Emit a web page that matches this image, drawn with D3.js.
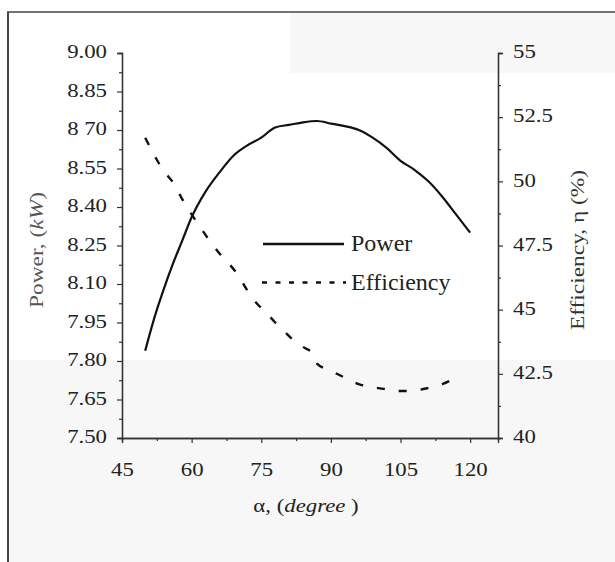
<!DOCTYPE html>
<html>
<head>
<meta charset="utf-8">
<script src="https://d3js.org/d3.v7.min.js"></script>
<style>
body { margin: 0; background: #fff; }
svg { display: block; }
text { font-family: "Liberation Serif", "Times New Roman", serif; fill: #222; }
</style>
</head>
<body>
<svg width="615" height="562"></svg>
<script>
// data
var alpha = [50, 52, 54, 56, 58, 60, 63, 66, 69, 72, 75, 78, 81, 84, 87, 90, 93, 96, 99, 102, 105, 108, 111, 114, 117, 120];
var power = [7.84, 7.97, 8.08, 8.18, 8.27, 8.36, 8.46, 8.535, 8.60, 8.64, 8.67, 8.71, 8.72, 8.73, 8.735, 8.725, 8.715, 8.70, 8.67, 8.63, 8.58, 8.545, 8.50, 8.44, 8.37, 8.30];

var alphaEff = [50, 52, 54, 56, 58, 60, 62, 64, 66, 68, 70, 72, 74, 76, 78, 80, 82, 84, 86, 87, 90, 93, 96, 99, 102, 105, 108, 111, 114, 117];
var efficiency = [51.7, 51.0, 50.4, 49.95, 49.3, 48.71, 48.18, 47.65, 47.19, 46.8, 46.35, 45.75, 45.25, 44.9, 44.5, 44.15, 43.8, 43.55, 43.3, 42.9, 42.62, 42.35, 42.1, 41.98, 41.9, 41.83, 41.85, 41.95, 42.1, 42.35];

var xTicks = [45, 60, 75, 90, 105, 120];
var powerTicks = [7.50, 7.65, 7.80, 7.95, 8.10, 8.25, 8.40, 8.55, 8.70, 8.85, 9.00];
var effTicks = [40, 42.5, 45, 47.5, 50, 52.5, 55];

var svg = d3.select("svg");

// scan background shading and frame
svg.append("rect").attr("x", 8).attr("y", 360).attr("width", 607).attr("height", 202).style("fill", "#f7f7f7");
svg.append("rect").attr("x", 290).attr("y", 13).attr("width", 325).attr("height", 60).style("fill", "#f7f7f7");
svg.append("line").attr("x1", 7).attr("x2", 615).attr("y1", 12).attr("y2", 12).style("stroke", "#444").style("stroke-width", 1.5);
svg.append("line").attr("x1", 8).attr("x2", 8).attr("y1", 12).attr("y2", 562).style("stroke", "#444").style("stroke-width", 2);

var x = d3.scaleLinear().domain([45, 126]).range([122, 498]);
var yP = d3.scaleLinear().domain([7.5, 9.0]).range([438, 53]);
var yE = d3.scaleLinear().domain([40, 55]).range([438, 53]);

var stretch = 1.2;

function styleAxis(g) {
    g.select(".domain").style("stroke", "#333").style("stroke-width", 1.3);
    g.selectAll(".tick line").style("stroke", "#333").style("stroke-width", 1.2);
    g.selectAll("text").style("font-size", "19px").style("fill", "#222")
        .attr("font-family", null);
}

// minor ticks first
svg.append("g").attr("transform", "translate(122,0)")
    .call(d3.axisLeft(yP).tickValues(d3.range(7.575, 9.0, 0.15)).tickSize(3).tickFormat(""))
    .call(styleAxis);
svg.append("g").attr("transform", "translate(498,0)")
    .call(d3.axisRight(yE).tickValues(d3.range(41.25, 55, 2.5)).tickSize(3).tickFormat(""))
    .call(styleAxis);
svg.append("g").attr("transform", "translate(0,438)")
    .call(d3.axisBottom(x).tickValues(d3.range(52.5, 126, 15)).tickSize(3).tickFormat(""))
    .call(styleAxis);

var gl = svg.append("g").attr("transform", "translate(122,0)")
    .call(d3.axisLeft(yP).tickValues(powerTicks).tickSize(5).tickFormat(function(d) {
        var s = d3.format(".2f")(d);
        return s == "8.70" ? "8 70" : s;
    }))
    .call(styleAxis);
gl.selectAll("text").attr("x", -12.5).attr("dy", "0.25em").attr("transform", "scale(" + stretch + ",1)");

var gr = svg.append("g").attr("transform", "translate(498,0)")
    .call(d3.axisRight(yE).tickValues(effTicks).tickSize(5).tickFormat(function(d) { return d; }))
    .call(styleAxis);
gr.selectAll("text").attr("x", 12.5).attr("dy", "0.25em").attr("transform", "scale(" + stretch + ",1)");

var gb = svg.append("g").attr("transform", "translate(0,438)")
    .call(d3.axisBottom(x).tickValues(xTicks).tickSize(5).tickFormat(function(d) { return d; }))
    .call(styleAxis);
gb.selectAll("text").attr("x", 0).attr("y", 38).attr("dy", 0).attr("transform", "scale(" + stretch + ",1)");

// lines
var powerLine = d3.line()
    .x(function(d, i) { return x(alpha[i]); })
    .y(function(d) { return yP(d); })
    .curve(d3.curveMonotoneX);

var effLine = d3.line()
    .x(function(d, i) { return x(alphaEff[i]); })
    .y(function(d) { return yE(d); })
    .curve(d3.curveMonotoneX);

svg.append("path").datum(power).attr("d", powerLine)
    .style("fill", "none").style("stroke", "#111").style("stroke-width", 2.2);

svg.append("path").datum(efficiency).attr("d", effLine)
    .style("fill", "none").style("stroke", "#111").style("stroke-width", 2.4)
    .style("stroke-dasharray", "8,14");

// legend
svg.append("line").attr("x1", 263).attr("x2", 344).attr("y1", 244).attr("y2", 244)
    .style("stroke", "#111").style("stroke-width", 2.4);
svg.append("line").attr("x1", 262).attr("x2", 346).attr("y1", 282.5).attr("y2", 282.5)
    .style("stroke", "#111").style("stroke-width", 2.4).style("stroke-dasharray", "5,8.5");
svg.append("text").attr("x", 351).attr("y", 251).style("font-size", "24px").text("Power");
svg.append("text").attr("x", 351).attr("y", 290).style("font-size", "24px").text("Efficiency");

// axis titles
var xt = svg.append("text")
    .attr("transform", "translate(306,512) scale(" + stretch + ",1)")
    .attr("text-anchor", "middle").style("font-size", "19px");
xt.append("tspan").text("\u03b1, (");
xt.append("tspan").style("font-style", "italic").text("degree");
xt.append("tspan").text(" )");

var lt = svg.append("text")
    .attr("transform", "translate(43,250) rotate(-90) scale(1.3,1)")
    .attr("text-anchor", "middle").style("font-size", "18px").style("fill", "#555");
lt.append("tspan").text("Power, (");
lt.append("tspan").style("font-style", "italic").text("kW");
lt.append("tspan").text(")");

svg.append("text")
    .attr("transform", "translate(584,250) rotate(-90) scale(1.3,1)")
    .attr("text-anchor", "middle").style("font-size", "18px").style("fill", "#333")
    .text("Efficiency, \u03b7 (%)");
</script>
</body>
</html>
